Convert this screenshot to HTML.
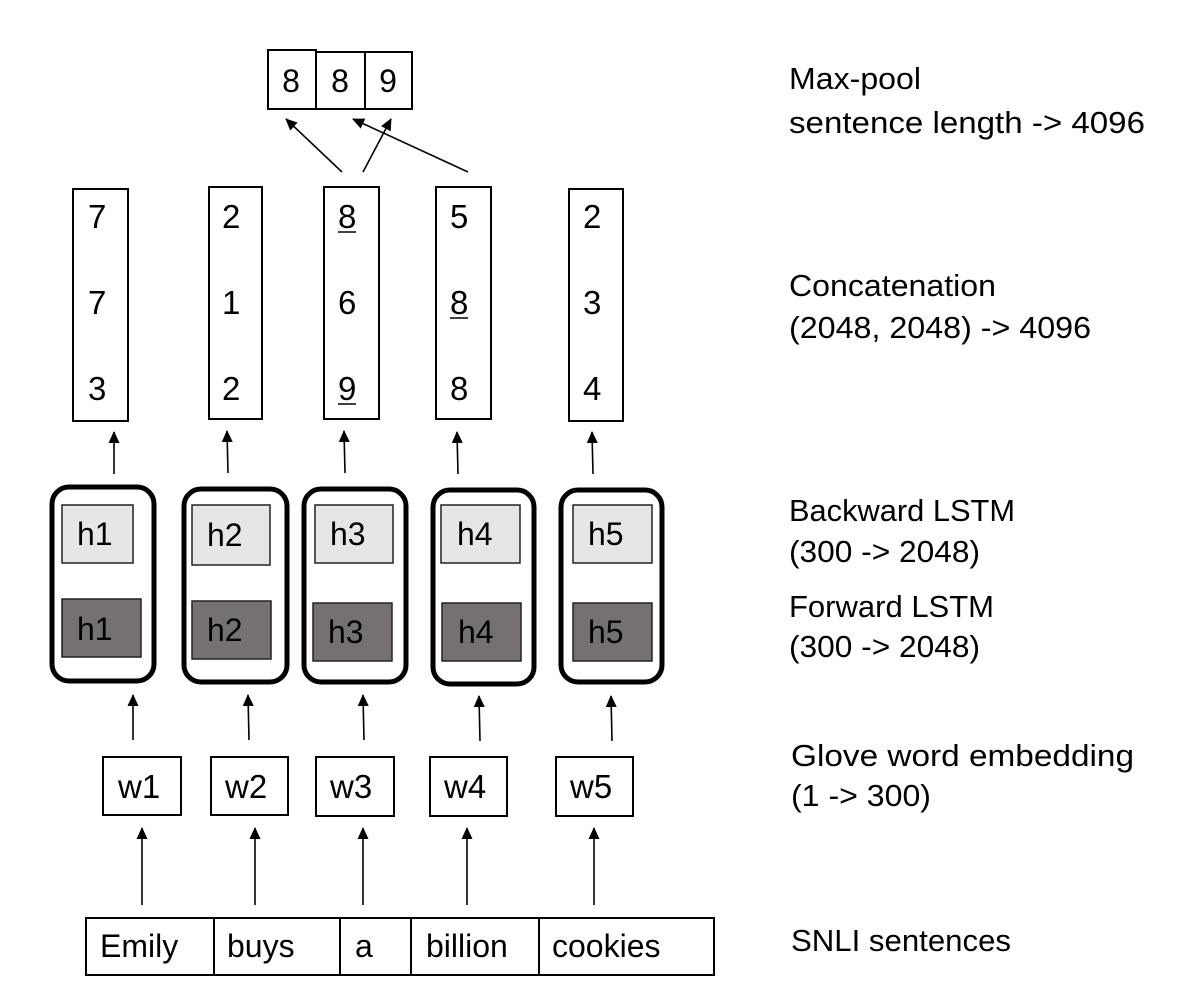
<!DOCTYPE html>
<html><head><meta charset="utf-8"><style>
html,body{margin:0;padding:0;background:#fff;}
svg{display:block;}
text{font-family:"Liberation Sans",sans-serif;fill:#000;}
</style></head><body>
<svg width="1200" height="1003" viewBox="0 0 1200 1003" xmlns="http://www.w3.org/2000/svg">
<defs>
<marker id="a" markerWidth="12" markerHeight="12" refX="11" refY="5.5" orient="auto" markerUnits="userSpaceOnUse">
<path d="M0,0 L12,5.5 L0,11 z" fill="#000"/>
</marker>
</defs>
<!-- max pool boxes -->
<g stroke="#000" stroke-width="2" fill="#fff">
<rect x="268" y="50" width="48" height="59"/>
<rect x="316" y="52" width="49" height="57"/>
<rect x="365" y="52" width="47" height="57"/>
</g>
<g font-size="32" text-anchor="middle">
<text x="291" y="92">8</text><text x="340" y="92">8</text><text x="388" y="92">9</text>
</g>
<g stroke="#000" stroke-width="1.6" marker-end="url(#a)">
<line x1="342" y1="172" x2="286" y2="119"/>
<line x1="363" y1="172" x2="391" y2="119"/>
<line x1="468" y1="172" x2="353" y2="119"/>
</g>
<!-- concat columns -->
<g stroke="#000" stroke-width="2" fill="#fff">
<rect x="73" y="189" width="55" height="232"/>
<rect x="209" y="187" width="53" height="232"/>
<rect x="324" y="187" width="55" height="232"/>
<rect x="436" y="187" width="55" height="232"/>
<rect x="569" y="189" width="54" height="232"/>
</g>
<g font-size="33">
<text x="88" y="228">7</text><text x="88" y="314">7</text><text x="88" y="400">3</text>
<text x="222" y="228">2</text><text x="222" y="314">1</text><text x="222" y="400">2</text>
<text x="338" y="228">8</text><text x="338" y="314">6</text><text x="338" y="400">9</text>
<text x="450" y="228">5</text><text x="450" y="314">8</text><text x="450" y="400">8</text>
<text x="583" y="228">2</text><text x="583" y="314">3</text><text x="583" y="400">4</text>
</g>
<g stroke="#000" stroke-width="1.5">
<line x1="338" y1="232" x2="356" y2="232"/>
<line x1="338" y1="404" x2="356" y2="404"/>
<line x1="450" y1="318" x2="468" y2="318"/>
</g>
<g stroke="#000" stroke-width="1.6" marker-end="url(#a)">
<line x1="114" y1="474" x2="114" y2="432"/>
<line x1="228" y1="473" x2="227" y2="431"/>
<line x1="345" y1="473" x2="344" y2="431"/>
<line x1="458" y1="474" x2="457" y2="432"/>
<line x1="593" y1="474" x2="592" y2="432"/>
</g>
<!-- LSTM -->
<g stroke="#000" stroke-width="5" fill="#fff">
<rect x="52" y="487" width="102" height="194" rx="17"/>
<rect x="184" y="489" width="103" height="193" rx="17"/>
<rect x="304" y="489" width="102" height="193" rx="17"/>
<rect x="433" y="490" width="101" height="194" rx="17"/>
<rect x="561" y="490" width="101" height="192" rx="17"/>
</g>
<g stroke="#222" stroke-width="1.5" fill="#e6e6e6">
<rect x="62" y="505" width="71" height="58"/>
<rect x="192" y="505" width="78" height="60"/>
<rect x="315" y="505" width="78" height="58"/>
<rect x="441" y="505" width="79" height="58"/>
<rect x="573" y="505" width="79" height="58"/>
</g>
<g stroke="#222" stroke-width="1.5" fill="#767171">
<rect x="62" y="599" width="79" height="58"/>
<rect x="192" y="601" width="79" height="58"/>
<rect x="313" y="603" width="79" height="58"/>
<rect x="442" y="603" width="79" height="58"/>
<rect x="573" y="603" width="79" height="58"/>
</g>
<g font-size="32">
<text x="77" y="545">h1</text><text x="207" y="546">h2</text><text x="330" y="545">h3</text><text x="457" y="545">h4</text><text x="588" y="545">h5</text>
<text x="77" y="640">h1</text><text x="207" y="641">h2</text><text x="328" y="643">h3</text><text x="458" y="643">h4</text><text x="588" y="643">h5</text>
</g>
<g stroke="#000" stroke-width="1.6" marker-end="url(#a)">
<line x1="133" y1="740" x2="133" y2="695"/>
<line x1="249" y1="740" x2="248" y2="695"/>
<line x1="364" y1="740" x2="363" y2="695"/>
<line x1="480" y1="741" x2="479" y2="696"/>
<line x1="612" y1="741" x2="611" y2="696"/>
</g>
<!-- w boxes -->
<g stroke="#000" stroke-width="2" fill="#fff">
<rect x="103" y="757" width="78" height="58"/>
<rect x="211" y="757" width="77" height="58"/>
<rect x="316" y="757" width="78" height="59"/>
<rect x="430" y="757" width="77" height="59"/>
<rect x="556" y="757" width="77" height="59"/>
</g>
<g font-size="33">
<text x="118" y="798">w1</text><text x="225" y="798">w2</text><text x="330" y="798">w3</text><text x="444" y="798">w4</text><text x="570" y="798">w5</text>
</g>
<g stroke="#000" stroke-width="1.6" marker-end="url(#a)">
<line x1="142" y1="905" x2="142" y2="828"/>
<line x1="255" y1="905" x2="255" y2="828"/>
<line x1="363" y1="905" x2="363" y2="828"/>
<line x1="467" y1="905" x2="467" y2="828"/>
<line x1="594" y1="905" x2="594" y2="828"/>
</g>
<!-- sentence -->
<g stroke="#000" stroke-width="2" fill="#fff">
<rect x="86" y="918" width="628" height="57"/>
<line x1="214" y1="918" x2="214" y2="975"/>
<line x1="340" y1="918" x2="340" y2="975"/>
<line x1="411" y1="918" x2="411" y2="975"/>
<line x1="539" y1="918" x2="539" y2="975"/>
</g>
<g font-size="32">
<text x="100" y="957">Emily</text><text x="227" y="957">buys</text><text x="355" y="957">a</text><text x="426" y="957">billion</text><text x="552" y="957">cookies</text>
</g>
<!-- right labels -->
<g font-size="31">
<text x="789" y="89" textLength="132" lengthAdjust="spacingAndGlyphs">Max-pool</text>
<text x="789" y="133" textLength="356" lengthAdjust="spacingAndGlyphs">sentence length -&gt; 4096</text>
<text x="789" y="296" textLength="207" lengthAdjust="spacingAndGlyphs">Concatenation</text>
<text x="789" y="338" textLength="302" lengthAdjust="spacingAndGlyphs">(2048, 2048) -&gt; 4096</text>
<text x="789" y="521" textLength="226" lengthAdjust="spacingAndGlyphs">Backward LSTM</text>
<text x="789" y="562" textLength="191" lengthAdjust="spacingAndGlyphs">(300 -&gt; 2048)</text>
<text x="789" y="617" textLength="205" lengthAdjust="spacingAndGlyphs">Forward LSTM</text>
<text x="789" y="657" textLength="191" lengthAdjust="spacingAndGlyphs">(300 -&gt; 2048)</text>
<text x="791" y="766" textLength="343" lengthAdjust="spacingAndGlyphs">Glove word embedding</text>
<text x="791" y="806" textLength="140" lengthAdjust="spacingAndGlyphs">(1 -&gt; 300)</text>
<text x="791" y="951" textLength="220" lengthAdjust="spacingAndGlyphs">SNLI sentences</text>
</g>
</svg>
</body></html>
